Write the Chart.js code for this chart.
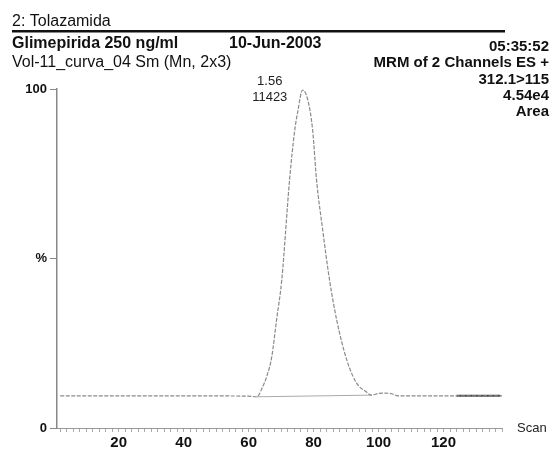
<!DOCTYPE html>
<html>
<head>
<meta charset="utf-8">
<script src="https://cdn.jsdelivr.net/npm/chart.js@4/dist/chart.umd.min.js"></script>
<style>
html,body{margin:0;padding:0;background:#fff;}
canvas{display:block;}
</style>
</head>
<body>
<canvas id="c" width="552" height="450"></canvas>
<script>
// ---- data ----
const traceScans     = [2, 30, 60, 62.5, 64.3, 65.5, 67.1, 68.6, 70.2, 72.6, 74.2, 75.1, 76.6, 78.2, 79.7, 80.9, 82.8, 84.9, 87.1, 90.2, 93.2, 96.3, 97.8, 100, 102, 104, 106, 125, 138];
const traceIntensity = [9.5, 9.5, 9.4, 9.2, 12.1, 15.0, 20.9, 31.9, 43.7, 73.2, 87.9, 93.2, 99.7, 96.8, 87.9, 73.2, 58.4, 43.7, 31.9, 20.1, 13.3, 10.6, 9.7, 10.2, 10.3, 10.1, 9.5, 9.5, 9.5];
const peakBaseScans  = [62.5, 97.8];
const peakBaseValues = [9.2, 9.7];
const noiseScans     = [124, 137.5];
const noiseValues    = [9.5, 9.5];
const yTickValues    = [0, 50, 100];
const yTickLabels    = ['0', '%', '100'];
const xLabelValues   = [20, 40, 60, 80, 100, 120];
const xMin = 1, xMax = 138;

const headerLeft = [
  {text: '2: Tolazamida', x: 12, y: 26, bold: false, size: 16},
  {text: 'Glimepirida 250 ng/ml', x: 12, y: 48, bold: true, size: 16},
  {text: '10-Jun-2003', x: 229, y: 48, bold: true, size: 16},
  {text: 'Vol-11_curva_04 Sm (Mn, 2x3)', x: 12, y: 67, bold: false, size: 16}
];
const headerRight = ['05:35:52', 'MRM of 2 Channels ES +', '312.1>115', '4.54e4', 'Area'];
const peakLabels = ['1.56', '11423'];
const peakLabelScan = 66.5;

const FONT = "'Liberation Sans', Arial, Helvetica, sans-serif";
const pts = (xs, ys) => xs.map((x, i) => ({x: x, y: ys[i]}));

const textPlugin = {
  id: 'texts',
  beforeDraw(chart) {
    const ctx = chart.ctx;
    ctx.save();
    ctx.fillStyle = '#fff';
    ctx.fillRect(0, 0, chart.width, chart.height);
    ctx.restore();
  },
  afterDraw(chart) {
    const ctx = chart.ctx;
    ctx.save();
    ctx.fillStyle = '#111';
    ctx.textBaseline = 'alphabetic';
    headerLeft.forEach(h => {
      ctx.font = (h.bold ? 'bold ' : '') + h.size + 'px ' + FONT;
      ctx.textAlign = 'left';
      ctx.fillText(h.text, h.x, h.y);
    });
    ctx.fillRect(12, 30, 493, 2.5);
    ctx.font = 'bold 15px ' + FONT;
    ctx.textAlign = 'right';
    const rb = [51, 67, 84, 100, 116];
    headerRight.forEach((t, i) => ctx.fillText(t, 549, rb[i]));
    // peak annotation
    const px = chart.scales.x.getPixelForValue(peakLabelScan);
    ctx.font = '13px ' + FONT;
    ctx.textAlign = 'center';
    ctx.fillStyle = '#222';
    ctx.fillText(peakLabels[0], px, 85);
    ctx.fillText(peakLabels[1], px, 101);
    // axis title
    ctx.textAlign = 'left';
    ctx.font = '13px ' + FONT;
    ctx.fillText('Scan', 517, 432);
    ctx.restore();
  }
};

new Chart(document.getElementById('c'), {
  type: 'line',
  data: {
    datasets: [
      {data: pts(traceScans, traceIntensity), borderColor: '#8a8a8a', borderWidth: 1.2, borderDash: [4, 1.5], pointRadius: 0, cubicInterpolationMode: 'monotone', fill: false},
      {data: pts(peakBaseScans, peakBaseValues), borderColor: '#aaaaaa', borderWidth: 1, pointRadius: 0, fill: false},
      {data: pts(noiseScans, noiseValues), borderColor: '#444', borderWidth: 2, pointRadius: 0, fill: false}
    ]
  },
  options: {
    responsive: false,
    animation: false,
    events: [],
    layout: {padding: {top: 89, right: 50, left: 0, bottom: 0}},
    plugins: {legend: {display: false}, tooltip: {enabled: false}},
    scales: {
      x: {
        type: 'linear', min: xMin, max: xMax,
        afterFit: s => { s.height = 22; },
        afterBuildTicks: s => {
          const t = [];
          for (let v = 2; v <= xMax; v += 2) t.push({value: v});
          s.ticks = t;
        },
        ticks: {
          autoSkip: false, maxRotation: 0, padding: 2, color: '#111',
          font: {family: FONT, size: 15, weight: 'bold'},
          callback: v => xLabelValues.includes(v) ? String(v) : ''
        },
        grid: {drawOnChartArea: false, tickLength: 4, color: '#aaa', lineWidth: 1},
        border: {display: true, color: '#999', width: 1}
      },
      y: {
        min: 0, max: 100,
        afterFit: s => { s.width = 57; },
        afterBuildTicks: s => { s.ticks = yTickValues.map(v => ({value: v})); },
        ticks: {
          padding: 3, color: '#111',
          font: {family: FONT, size: 13, weight: 'bold'},
          callback: v => yTickLabels[yTickValues.indexOf(v)]
        },
        grid: {drawOnChartArea: false, tickLength: 7, color: '#888', lineWidth: 1},
        border: {display: true, color: '#888', width: 1.5}
      }
    }
  },
  plugins: [textPlugin]
});
</script>
</body>
</html>
